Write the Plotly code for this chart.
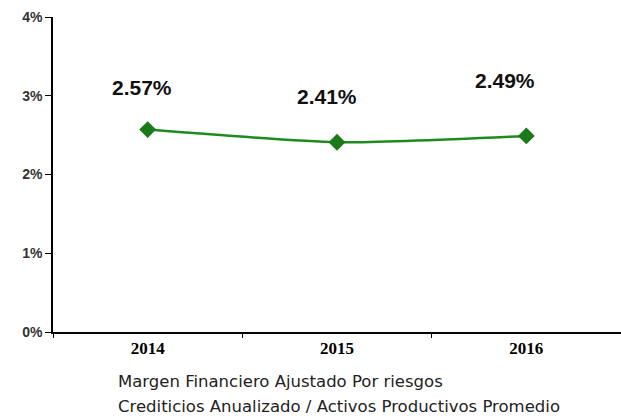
import plotly.graph_objects as go

years = ["2014", "2015", "2016"]
values = [2.57, 2.41, 2.49]
labels = ["2.57%", "2.41%", "2.49%"]
label_y = [3.11, 2.99, 3.2]
label_xshift = [-6, -10, -21]
y_ticks = [0, 1, 2, 3, 4]
y_ticktext = ["0%", "1%", "2%", "3%", "4%"]
title_lines = ["Margen Financiero Ajustado Por riesgos",
               "Crediticios Anualizado / Activos Productivos Promedio"]

fig = go.Figure()
fig.add_trace(go.Scatter(
    x=years, y=values, mode="lines+markers",
    line=dict(color="#1f8a1f", width=2.5, shape="spline", smoothing=0.6),
    marker=dict(symbol="diamond", size=13, color="#1a7a1a"),
    hoverinfo="skip",
))

for i, (lab, ly, xs) in enumerate(zip(labels, label_y, label_xshift)):
    fig.add_annotation(x=i, y=ly, xref="x", yref="y", text=lab, showarrow=False, xshift=xs,
                       font=dict(family="Liberation Sans", size=21, color="#111", weight="bold"),
                       xanchor="center", yanchor="middle")

for k, line in enumerate(title_lines):
    fig.add_annotation(
        xref="paper", yref="paper", x=(116 - 53) / 568, y=-(50 + 24 * k) / 315,
        text=line, showarrow=False, align="left",
        xanchor="left", yanchor="middle",
        font=dict(family="DejaVu Sans", size=16.5, color="#222"),
    )

fig.update_layout(
    width=621, height=416,
    margin=dict(l=53, r=0, t=17, b=84),
    paper_bgcolor="white", plot_bgcolor="white",
    showlegend=False,
    xaxis=dict(
        type="category", range=[-0.5, 2.5], tickson="boundaries",
        ticks="outside", ticklen=4, tickcolor="black",
        showline=True, linecolor="black", linewidth=1.5,
        showgrid=False, zeroline=False,
        tickfont=dict(family="Liberation Serif", size=17, color="black", weight="bold"),
    ),
    yaxis=dict(
        range=[0, 4], tickvals=y_ticks, ticktext=y_ticktext,
        ticks="outside", ticklen=6, tickcolor="black",
        showline=True, linecolor="black", linewidth=1.5,
        showgrid=False, zeroline=False,
        tickfont=dict(family="Liberation Sans", size=14, color="#333", weight="bold"),
    ),
)

fig.write_html("out.html", config={"displayModeBar": False},
               post_script="document.body.style.margin='0';document.body.style.overflow='hidden';")
